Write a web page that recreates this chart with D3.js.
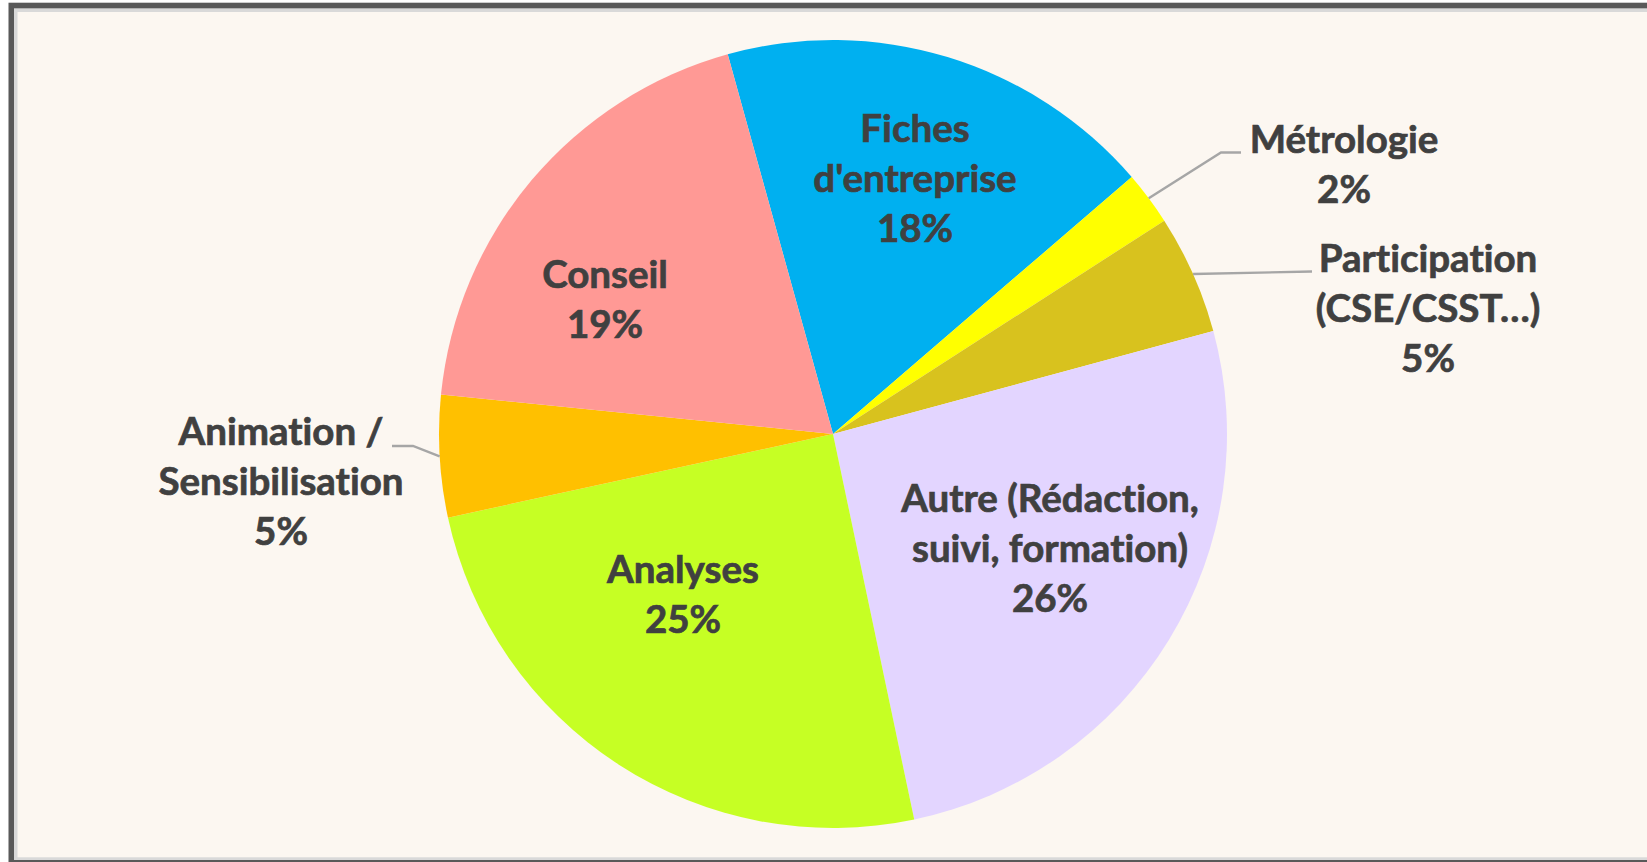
<!DOCTYPE html>
<html>
<head>
<meta charset="utf-8">
<script src="https://cdn.jsdelivr.net/npm/d3@7"></script>
<style>
  html, body { margin: 0; padding: 0; background: #ffffff; overflow: hidden; }
  svg { display: block; }
  text { font-variant-ligatures: none; font-feature-settings: "liga" 0, "clig" 0; }
</style>
</head>
<body>
<svg id="chart" width="1647" height="862"></svg>
<script>
// ---- data ----
const categories = [
  "Fiches d'entreprise",
  "Métrologie",
  "Participation (CSE/CSST…)",
  "Autre (Rédaction, suivi, formation)",
  "Analyses",
  "Animation / Sensibilisation",
  "Conseil"
];
const values = [18.0, 2.2, 4.9, 25.9, 24.9, 5.0, 19.1];
const percentLabels = ["18%", "2%", "5%", "26%", "25%", "5%", "19%"];
const labelLines = [
  ["Fiches", "d'entreprise"],
  ["Métrologie"],
  ["Participation", "(CSE/CSST…)"],
  ["Autre (Rédaction,", "suivi, formation)"],
  ["Analyses"],
  ["Animation /", "Sensibilisation"],
  ["Conseil"]
];
const colors = ["#00B0F0", "#FFFF00", "#D8C21E", "#E3D5FF", "#C6FF24", "#FFC000", "#FF9995"];

// ---- layout (positions/styles) ----
const W = 1647, H = 862;
const cx = 833, cy = 434, R = 394;
const startDeg = -15.5;
const lineGap = 50;
// label anchor: x centre and first baseline (page px)
const labelLayout = [
  {x: 915, y: 142},
  {x: 1344, y: 153},
  {x: 1428, y: 272},
  {x: 1050, y: 512},
  {x: 683, y: 583},
  {x: 281, y: 445},
  {x: 605, y: 288}
];
// leader lines for outside labels: elbow and end points
const leaders = {
  1: [[1221, 152.5], [1241, 152.5]],
  2: [[1312, 271.5]],
  5: [[413, 446], [392, 446]]
};

const svg = d3.select("#chart");

// frame
svg.append("rect").attr("x", 8.5).attr("y", 2.7).attr("width", W).attr("height", H)
  .attr("fill", "#595959");
svg.append("rect").attr("x", 14).attr("y", 8.3).attr("width", W).attr("height", 852 - 0.3)
  .attr("fill", "#D9D9D9");
svg.append("rect").attr("x", 17.5).attr("y", 12).attr("width", W).attr("height", 845.3)
  .attr("fill", "#FCF7F1");

const data = categories.map((c, i) => ({name: c, value: values[i], i}));

const pie = d3.pie()
  .value(d => d.value)
  .sort(null)
  .startAngle(startDeg * Math.PI / 180)
  .endAngle(startDeg * Math.PI / 180 + 2 * Math.PI);

const arcs = pie(data);
const arc = d3.arc().innerRadius(0).outerRadius(R);

const g = svg.append("g").attr("transform", `translate(${cx},${cy})`);

g.selectAll("path.slice")
  .data(arcs)
  .join("path")
  .attr("class", "slice")
  .attr("d", arc)
  .attr("fill", d => colors[d.data.i]);

// leader lines
Object.keys(leaders).forEach(k => {
  const a = arcs[+k];
  const mid = (a.startAngle + a.endAngle) / 2;
  const sx = cx + R * Math.sin(mid);
  const sy = cy - R * Math.cos(mid);
  const pts = [[sx, sy]].concat(leaders[k]);
  svg.append("path")
    .attr("d", d3.line()(pts))
    .attr("fill", "none")
    .attr("stroke", "#A6A6A6")
    .attr("stroke-width", 2.4);
});

// labels
const labels = svg.append("g")
  .attr("font-family", "Lato, 'Open Sans', sans-serif")
  .attr("font-weight", "bold")
  .attr("font-size", 38.5)
  .attr("fill", "#404040")
  .attr("stroke", "#404040")
  .attr("stroke-width", 0.7)
  .attr("text-anchor", "middle");

arcs.forEach(a => {
  const i = a.data.i;
  const lines = labelLines[i].concat([percentLabels[i]]);
  const t = labels.append("text")
    .attr("x", labelLayout[i].x)
    .attr("y", labelLayout[i].y);
  lines.forEach((ln, j) => {
    t.append("tspan")
      .attr("x", labelLayout[i].x)
      .attr("y", labelLayout[i].y + j * lineGap)
      .text(ln);
  });
});
</script>
</body>
</html>
